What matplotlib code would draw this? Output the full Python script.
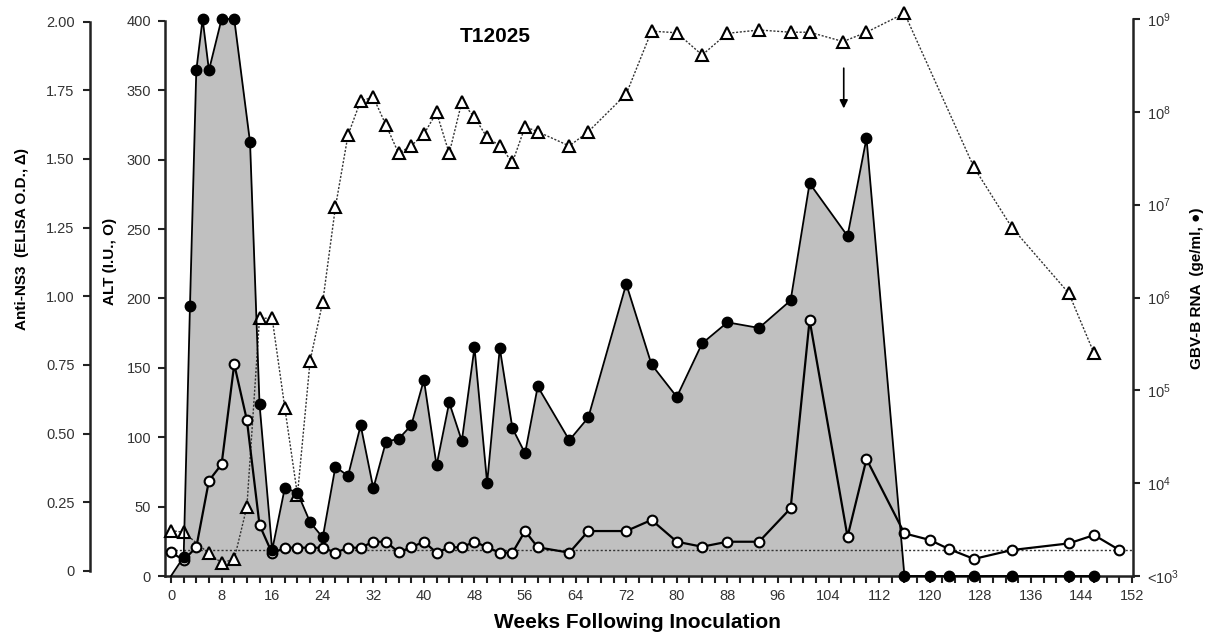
import numpy as np
import matplotlib
matplotlib.use('Agg')
import matplotlib.pyplot as plt
from matplotlib.ticker import MultipleLocator, NullLocator

plt.rcParams['font.family'] = ['Liberation Sans', 'DejaVu Sans']
plt.rcParams['mathtext.fontset'] = 'custom'
plt.rcParams['mathtext.rm'] = 'Liberation Sans'
plt.rcParams['mathtext.it'] = 'Liberation Sans:italic'
plt.rcParams['mathtext.bf'] = 'Liberation Sans:bold'

# GBV-B RNA (ge/ml), filled circles, <10^3 plotted at 1e3
rna_weeks = [0, 2, 3, 4, 5, 6, 8, 10, 12.5, 14,
             16, 18, 20, 22, 24, 26, 28, 30, 32, 34,
             36, 38, 40, 42, 44, 46, 48, 50, 52, 54,
             56, 58, 63, 66, 72, 76, 80, 84, 88, 93,
             98, 101, 107, 110, 116, 120, 123, 127, 133, 142, 146]
rna = [1e3, 1.6e3, 8.1e5, 2.8e8, 1e9, 2.8e8, 1e9, 1e9, 4.7e7, 7.1e4,
       1.9e3, 8.9e3, 7.9e3, 3.8e3, 2.6e3, 1.5e4, 1.2e4, 4.2e4, 8.8e3, 2.8e4,
       3.0e4, 4.2e4, 1.3e5, 1.55e4, 7.4e4, 2.85e4, 2.9e5, 1.0e4, 2.85e5, 3.9e4,
       2.1e4, 1.1e5, 2.9e4, 5.1e4, 1.4e6, 1.9e5, 8.5e4, 3.2e5, 5.4e5, 4.7e5,
       9.3e5, 1.7e7, 4.6e6, 5.2e7, 1e3, 1e3, 1e3, 1e3, 1e3, 1e3, 1e3]

# ALT (I.U.), open circles
alt_weeks = [0, 2, 4, 6, 8, 10, 12, 14, 16, 18,
             20, 22, 24, 26, 28, 30, 32, 34, 36, 38,
             40, 42, 44, 46, 48, 50, 52, 54, 56, 58,
             63, 66, 72, 76, 80, 84, 88, 93, 98, 101,
             107, 110, 116, 120, 123, 127, 133, 142, 146, 150]
alt = [17.1, 11.5, 20.7, 68.7, 80.5, 152.6, 112.4, 36.8, 16.3, 20.4,
       20.4, 20.4, 20.4, 16.8, 20.4, 20.4, 24.7, 24.7, 17.1, 20.7,
       24.7, 16.8, 20.7, 20.7, 24.7, 20.7, 16.8, 16.8, 32.4, 20.7,
       16.8, 32.4, 32.4, 40.4, 24.7, 21.1, 24.7, 24.7, 48.8, 184.5,
       28.3, 84.3, 30.7, 26, 19.5, 12.3, 18.7, 23.5, 29.5, 18.7]
alt_cutoff = 18.7

# Anti-NS3 ELISA O.D., open triangles
ns3_weeks = [0, 2, 6, 8, 10, 12, 14, 16, 18, 20,
             22, 24, 26, 28, 30, 32, 34, 36, 38, 40,
             42, 44, 46, 48, 50, 52, 54, 56, 58, 63,
             66, 72, 76, 80, 84, 88, 93, 98, 101, 106.3,
             110, 116, 127, 133, 142, 146]
ns3 = [0.147, 0.141, 0.064, 0.030, 0.043, 0.234, 0.92, 0.92, 0.594, 0.277,
       0.765, 0.98, 1.324, 1.587, 1.712, 1.724, 1.623, 1.520, 1.548, 1.590,
       1.669, 1.520, 1.708, 1.651, 1.578, 1.548, 1.487, 1.617, 1.599, 1.547,
       1.599, 1.736, 1.965, 1.959, 1.878, 1.957, 1.969, 1.961, 1.961, 1.927,
       1.961, 2.03, 1.469, 1.250, 1.011, 0.792]

arrow_week = 106.4

fig = plt.figure(figsize=(12.05, 6.37), dpi=100)
ax = fig.add_axes([165 / 1205, 61 / 637, 968 / 1205, 557 / 637])
ax_rna = ax.twinx()
ax_ns3 = fig.add_axes([165 / 1205, 66 / 637, 968 / 1205, 549.5 / 637], sharex=ax)
ax_ns3.patch.set_visible(False)

ax.set_xlim(-0.95, 152.15)
ax.set_ylim(0, 401.44)
ax_rna.set_yscale('log')
ax_rna.set_ylim(1e3, 1e9)
ax_ns3.set_ylim(0, 2)

# everything drawn in ax so the stacking order is controlled in one place
ax.fill_between(rna_weeks, rna, 1e3, transform=ax_rna.transData,
                color='#c0c0c0', lw=0, zorder=1)
ax.hlines(alt_cutoff, 0, 152, colors='#333333', linestyles=(0, (1.5, 1.5)),
          lw=1, zorder=2)
ax.plot(ns3_weeks, ns3, transform=ax_ns3.transData, clip_on=False,
        color='#333333', ls=(0, (1.5, 1.2)), lw=1, zorder=3)
ax.plot(ns3_weeks, ns3, transform=ax_ns3.transData, clip_on=False, ls='none',
        marker='^', ms=8, mfc='white', mec='black', mew=1.5, zorder=3)
ax.plot(alt_weeks, alt, color='black', lw=1.6, marker='o', ms=7,
        mfc='white', mec='black', mew=1.5, zorder=4, clip_on=False)
ax.plot(rna_weeks, rna, transform=ax_rna.transData, color='black', lw=1.3,
        zorder=5, clip_on=False)
ax.plot(rna_weeks[1:], rna[1:], transform=ax_rna.transData, ls='none',
        marker='o', ms=7.5, color='black', zorder=5, clip_on=False)

ax.annotate('', xy=(arrow_week, 337), xytext=(arrow_week, 366),
            arrowprops=dict(arrowstyle='-|>', color='black', lw=1.2,
                            mutation_scale=12, shrinkA=0, shrinkB=0))

spine_col = '#222222'
tick_kw = dict(length=5, width=1.5, color=spine_col, labelsize=10.5,
               labelcolor='#333333', direction='out')

for a in (ax, ax_rna, ax_ns3):
    for s in a.spines.values():
        s.set_visible(False)
        s.set_linewidth(1.8)
        s.set_color(spine_col)

ax.spines['left'].set_visible(True)
ax.spines['left'].set_bounds(0, 400)
ax.spines['bottom'].set_visible(True)
ax.set_yticks(np.arange(0, 401, 50))
ax.xaxis.set_major_locator(MultipleLocator(8))
ax.xaxis.set_minor_locator(MultipleLocator(2))
ax.tick_params(axis='y', pad=5, **tick_kw)
ax.tick_params(axis='x', which='both', pad=4, **tick_kw)

ax_rna.spines['right'].set_visible(True)
ax_rna.set_yticks([1e3, 1e4, 1e5, 1e6, 1e7, 1e8, 1e9])
ax_rna.set_yticklabels(['<10$^{3}$', '10$^{4}$', '10$^{5}$', '10$^{6}$',
                        '10$^{7}$', '10$^{8}$', '10$^{9}$'])
ax_rna.yaxis.set_minor_locator(NullLocator())
ax_rna.tick_params(axis='y', pad=5, **tick_kw)

ax_ns3.spines['left'].set_visible(True)
ax_ns3.spines['left'].set_position(('outward', 54))
ax_ns3.set_yticks(np.arange(0, 2.01, 0.25))
ax_ns3.set_yticklabels(['0', '0.25', '0.50', '0.75', '1.00', '1.25',
                        '1.50', '1.75', '2.00'])
ax_ns3.tick_params(axis='y', pad=6, **tick_kw)
ax_ns3.tick_params(axis='x', which='both', bottom=False, labelbottom=False)

fig.text(495 / 1205, 1 - 37 / 637, 'T12025', ha='center', va='center',
         fontsize=15, fontweight='bold')
fig.text(637 / 1205, 1 - 623 / 637, 'Weeks Following Inoculation',
         ha='center', va='center', fontsize=15, fontweight='bold')
fig.text(22 / 1205, 1 - 239 / 637, 'Anti-NS3  (ELISA O.D., \u0394)',
         rotation=90, ha='center', va='center', fontsize=11, fontweight='bold')
fig.text(110 / 1205, 1 - 261 / 637, 'ALT (I.U., O)', rotation=90,
         ha='center', va='center', fontsize=11, fontweight='bold')
fig.text(1197 / 1205, 1 - 288 / 637, 'GBV-B RNA  (ge/ml, \u25cf)', rotation=90,
         ha='center', va='center', fontsize=11, fontweight='bold')

fig.savefig('out.png', dpi=100)
